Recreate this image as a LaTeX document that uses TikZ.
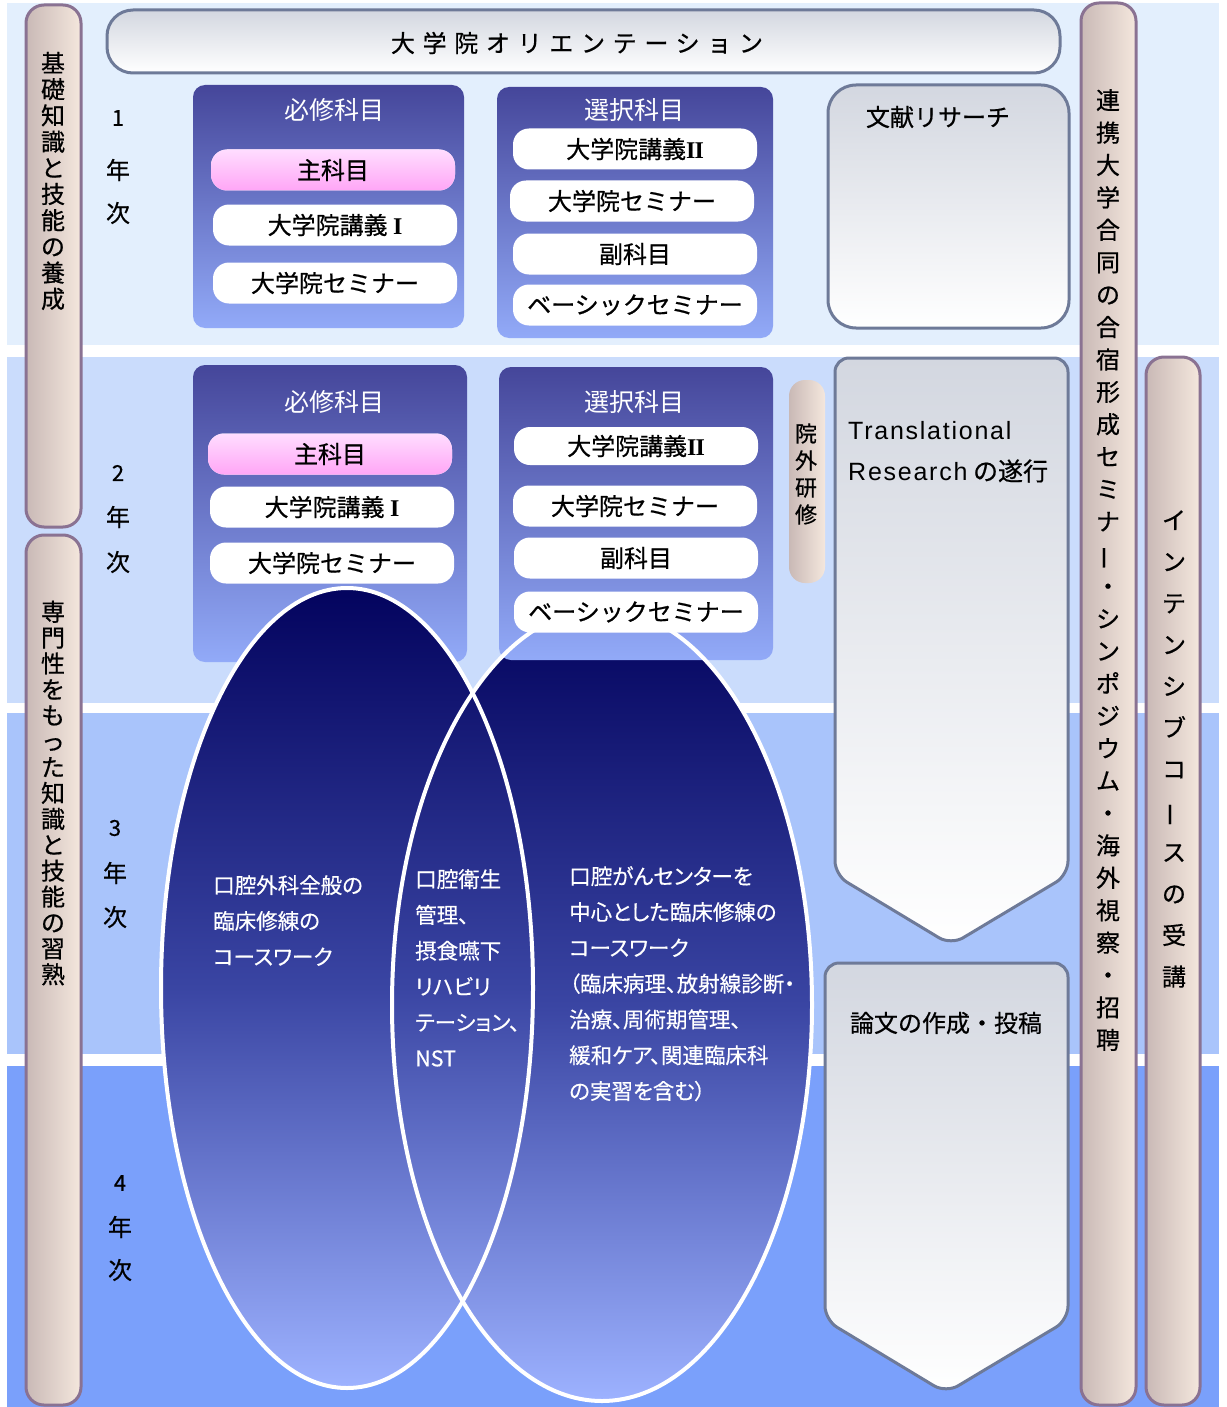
\documentclass[tikz,border=0pt]{standalone}
\usepackage{fontspec}
\setmainfont{Noto Sans CJK JP}[FakeBold=0.6]
\newfontfamily\jpprop[RawFeature=+palt, FakeBold=0.4]{Noto Sans CJK JP}
\newfontfamily\jpplain{Noto Sans CJK JP}
\newfontfamily\arialfont{Liberation Sans}
\newfontfamily\seriffont{Liberation Serif}

\definecolor{bandA}{HTML}{E3EFFD}
\definecolor{bandB}{HTML}{CADCFC}
\definecolor{bandC}{HTML}{A9C4FB}
\definecolor{bandD}{HTML}{7AA0FB}
\definecolor{barline}{HTML}{8A7292}
\definecolor{barleft}{HTML}{C9B9B6}
\definecolor{barright}{HTML}{F4E7DD}
\definecolor{boxtop}{HTML}{45469A}
\definecolor{boxbot}{HTML}{92AAF8}
\definecolor{pinktop}{HTML}{FFDDFF}
\definecolor{pinkbot}{HTML}{FFA6F6}
\definecolor{panelline}{HTML}{6E7A98}
\definecolor{paneltop}{HTML}{D3D7E0}
\definecolor{ovaltop}{HTML}{03035E}
\definecolor{ovalmid}{HTML}{3A45A3}
\definecolor{ovalbot}{HTML}{9DB2FF}

\newcommand{\tatebar}{\rotatebox[origin=c]{90}{ー}}
\newcommand{\romanI}{{\seriffont\bfseries I}}
\newcommand{\romanII}{{\seriffont\bfseries I\kern-1pt I}}

\tikzset{
  sidebar/.style={draw=barline, line width=3pt, rounded corners=18pt, left color=barleft, right color=barright},
  barlabel/.style={align=center, inner sep=0pt},
  course/.style={rounded corners=12pt, top color=boxtop, bottom color=boxbot},
  coursetitle/.style={text=white, inner sep=0pt, font=\jpplain\fontsize{25}{30}\selectfont},
  pill/.style={fill=white, rounded corners=16pt, minimum width=244pt, minimum height=41pt, inner sep=0pt, font=\fontsize{24}{28}\selectfont},
  mainpill/.style={pill, top color=pinktop, bottom color=pinkbot},
  panel/.style={draw=panelline, line width=3pt, top color=paneltop, bottom color=white},
  oval/.style={top color=ovaltop, bottom color=ovalbot, middle color=ovalmid},
  ovalrim/.style={draw=white, line width=4pt},
  ovaltext/.style={text=white, align=left, inner sep=0pt, anchor=north west, font={\jpprop\fontsize{21.5}{35.8}\selectfont}},
  yearlabel/.style={inner sep=0pt, font=\fontsize{24}{28}\selectfont}
}

\begin{document}
\begin{tikzpicture}[x=1pt, y=-1pt]
    \useasboundingbox (0,0) rectangle (1226,1407);

    % Background bands for the four years
    \foreach \ya/\yb/\col in {3/345/bandA, 357/703/bandB, 713/1054/bandC, 1066/1407/bandD}
        \fill[\col] (7,\ya) rectangle (1219,\yb);

    % Side bars
    \path[sidebar] (26,5) rectangle (81,527);
    \node[barlabel, font={\fontsize{24}{26.2}\selectfont}] (basic) at (53,181)
        {基\\礎\\知\\識\\と\\技\\能\\の\\養\\成};
    \path[sidebar] (26,535) rectangle (81,1405);
    \node[barlabel, font={\fontsize{24}{25.9}\selectfont}] (expert) at (53,793)
        {専\\門\\性\\を\\も\\っ\\た\\知\\識\\と\\技\\能\\の\\習\\熟};
    \path[sidebar] (1081,3) rectangle (1136,1405);
    \node[barlabel, font={\fontsize{24}{32.4}\selectfont}] (joint) at (1108,570)
        {連\\携\\大\\学\\合\\同\\の\\合\\宿\\形\\成\\セ\\ミ\\ナ\\\tatebar\\・\\シ\\ン\\ポ\\ジ\\ウ\\ム\\・\\海\\外\\視\\察\\・\\招\\聘};
    \path[sidebar] (1146,357) rectangle (1200,1405);
    \node[barlabel, font={\fontsize{24}{41.5}\selectfont}] (intensive) at (1174,749)
        {イ\\ン\\テ\\ン\\シ\\ブ\\コ\\\tatebar\\ス\\の\\受\\講};

    % Orientation
    \path[panel, rounded corners=26pt] (107,10) rectangle (1060,73);
    \node[inner sep=0pt, font={\fontsize{24}{28}\selectfont\addfontfeature{LetterSpace=32}}] (orient) at (577,43) {大学院オリエンテーション};

    % Year labels
    \foreach \n/\x/\ya/\yb/\yc in {1/118/118/170/213, 2/118/473/517/562, 3/115/828/873/917, 4/120/1183/1227/1270} {
        \node[yearlabel, font=\fontsize{22}{26}\selectfont] (num\n) at (\x,\ya) {\n};
        \node[yearlabel] (nen\n) at (\x,\yb) {年};
        \node[yearlabel] (ji\n) at (\x,\yc) {次};
    }

    % Year 1
    \path[course] (193,85) rectangle (464,328);
    \node[coursetitle] (req1) at (334,110) {必修科目};
    \node[mainpill] (main1) at (333,170) {主科目};
    \node[pill] (lecA1) at (335,225) {大学院講義 \romanI};
    \node[pill] (semA1) at (335,283) {大学院セミナー};

    \path[course] (497,87) rectangle (773,338);
    \node[coursetitle] (elec1) at (634,110) {選択科目};
    \node[pill] (lecB1) at (635,149) {大学院講義\romanII};
    \node[pill] (semB1) at (632,201) {大学院セミナー};
    \node[pill] (sub1) at (635,254) {副科目};
    \node[pill] (basic1) at (635,305) {ベーシックセミナー};

    \path[panel, rounded corners=28pt] (828,85) rectangle (1069,328);
    \node[inner sep=0pt, font=\fontsize{24}{28}\selectfont] (lit) at (938,117) {文献リサーチ};

    % Year 2
    \path[course] (193,365) rectangle (467,662);
    \node[coursetitle] (req2) at (334,402) {必修科目};
    \node[mainpill] (main2) at (330,454) {主科目};
    \node[pill] (lecA2) at (332,507) {大学院講義 \romanI};
    \node[pill] (semA2) at (332,563) {大学院セミナー};

    % Coursework ovals
    \coordinate (surgery) at (347,988);
    \coordinate (cancer) at (602,1005);
    \fill[oval] (cancer) ellipse [x radius=210pt, y radius=396pt];
    \path[course] (499,367) rectangle (773,660);
    \fill[oval] (surgery) ellipse [x radius=186pt, y radius=400pt];
    \draw[ovalrim] (cancer) ellipse [x radius=210pt, y radius=396pt];
    \draw[ovalrim] (surgery) ellipse [x radius=186pt, y radius=400pt];

    \node[coursetitle] (elec2) at (634,402) {選択科目};
    \node[pill, minimum height=38pt] (lecB2) at (636,446) {大学院講義\romanII};
    \node[pill] (semB2) at (635,506) {大学院セミナー};
    \node[pill] (sub2) at (636,558) {副科目};
    \node[pill] (basic2) at (636,612) {ベーシックセミナー};

    \node[ovaltext] (surgtext) at (213,875) {口腔外科全般の\\臨床修練の\\コースワーク};
    \node[ovaltext] (caretext) at (415,869) {口腔衛生\\管理、\\摂食嚥下\\リハビリ\\テーション、\\NST};
    \node[ovaltext] (cancertext) at (569,866) {口腔がんセンターを\\中心とした臨床修練の\\コースワーク\\（臨床病理、放射線診断・\\治療、周術期管理、\\緩和ケア、関連臨床科\\の実習を含む）};

    % Research track
    \path[rounded corners=16pt, left color=barleft, right color=barright] (789,380) rectangle (825,583);
    \node[barlabel, font={\fontsize{22}{27}\selectfont}] (extern) at (806,474) {院\\外\\研\\修};

    \path[panel, rounded corners=14pt] (835,358) -- (1068,358) -- (1068,875) -- (951,945) -- (835,875) -- cycle;
    \node[anchor=west, inner sep=0pt, font={\fontsize{25}{30}\arialfont\addfontfeature{LetterSpace=7}}] (trans1) at (848,431) {Translational};
    \node[anchor=west, inner sep=0pt, font=\fontsize{25}{30}\selectfont] (trans2) at (848,471) {{\arialfont\addfontfeature{LetterSpace=7}Research} の遂行};

    \path[panel, rounded corners=14pt] (825,963) -- (1068,963) -- (1068,1320) -- (946,1393) -- (825,1320) -- cycle;
    \node[inner sep=0pt, font=\fontsize{24}{28}\selectfont] (thesis) at (946,1023) {論文の作成・投稿};

\end{tikzpicture}
\end{document}
